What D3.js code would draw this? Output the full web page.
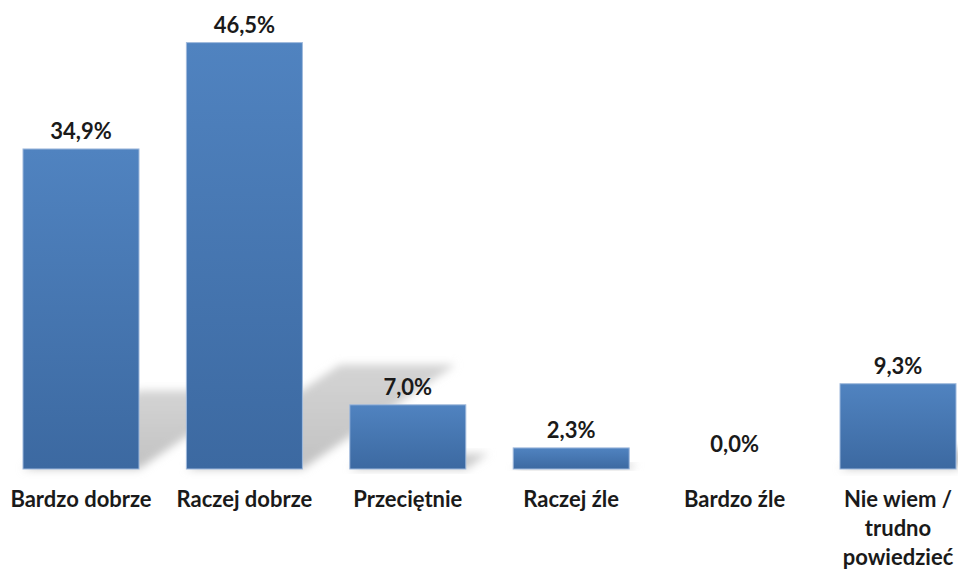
<!DOCTYPE html>
<html>
<head>
<meta charset="utf-8">
<script src="https://cdn.jsdelivr.net/npm/d3@7"></script>
<style>
  html, body { margin: 0; padding: 0; background: #ffffff; }
  svg { display: block; }
  text { font-family: Lato, "Open Sans", "DejaVu Sans", sans-serif; font-weight: 700; fill: #1a1a1a; }
</style>
</head>
<body>
<svg id="chart" width="958" height="569"></svg>
<script>
// Survey answers and their shares (percent)
const categories = ["Bardzo dobrze", "Raczej dobrze", "Przeciętnie", "Raczej źle", "Bardzo źle", "Nie wiem / trudno powiedzieć"];
const values = [34.9, 46.5, 7.0, 2.3, 0.0, 9.3];
const valueLabels = ["34,9%", "46,5%", "7,0%", "2,3%", "0,0%", "9,3%"];

const W = 958, H = 569;
const baseY = 469;
const fontSize = 22;

const svg = d3.select("#chart");

const x = d3.scaleBand()
  .domain(categories)
  .range([-0.7, 979.7])
  .paddingInner(0.29)
  .paddingOuter(0.145);

const y = d3.scaleLinear()
  .domain([0, 50])
  .range([baseY, 10.5]);

const defs = svg.append("defs");

// Bar fill: lighter blue at the top, deeper blue at the base
const barGrad = defs.append("linearGradient")
  .attr("id", "barGrad")
  .attr("x1", 0).attr("y1", 0).attr("x2", 0).attr("y2", 1);
barGrad.append("stop").attr("offset", "0%").attr("stop-color", "#5083c0");
barGrad.append("stop").attr("offset", "100%").attr("stop-color", "#3c69a1");

// Soft perspective shadow cast up and to the right
const shadowGrad = defs.append("linearGradient")
  .attr("id", "shadowGrad")
  .attr("x1", 0).attr("y1", 1).attr("x2", 0).attr("y2", 0);
shadowGrad.append("stop").attr("offset", "0%").attr("stop-color", "#c2c2c2");
shadowGrad.append("stop").attr("offset", "100%").attr("stop-color", "#d4d4d4");

const blur = defs.append("filter")
  .attr("id", "shadowBlur")
  .attr("x", "-30%").attr("y", "-30%").attr("width", "160%").attr("height", "160%");
blur.append("feGaussianBlur").attr("stdDeviation", 4.5);

const data = categories.map((c, i) => ({ cat: c, v: values[i], label: valueLabels[i] }));

// Shadow polygons: squashed vertically and skewed to the right
const squash = 0.245, skew = 0.36;
svg.append("g").attr("class", "shadows")
  .selectAll("polygon")
  .data(data.filter(d => d.v > 0))
  .join("polygon")
  .attr("points", d => {
    const x0 = x(d.cat), x1 = x0 + x.bandwidth();
    const h = baseY - y(d.v);
    const sh = h * squash, dx = h * skew;
    return [[x0, baseY], [x1, baseY], [x1 + dx, baseY - sh], [x0 + dx, baseY - sh]]
      .map(p => p.join(",")).join(" ");
  })
  .attr("fill", "url(#shadowGrad)")
  .attr("filter", "url(#shadowBlur)");

// Bars
svg.append("g").attr("class", "bars")
  .selectAll("rect")
  .data(data)
  .join("rect")
  .attr("x", d => x(d.cat))
  .attr("y", d => y(d.v))
  .attr("width", x.bandwidth())
  .attr("height", d => baseY - y(d.v))
  .attr("fill", "url(#barGrad)")
  .attr("stroke", "#9fb9dc")
  .attr("stroke-width", d => d.v > 0 ? 1 : 0);

// Value labels above bars
svg.append("g").attr("class", "values")
  .selectAll("text")
  .data(data)
  .join("text")
  .attr("x", d => x(d.cat) + x.bandwidth() / 2)
  .attr("y", d => Math.min(y(d.v), baseY - 7) - 10)
  .attr("text-anchor", "middle")
  .attr("font-size", fontSize)
  .text(d => d.label);

// Category axis labels, wrapped to the column width
const xAxis = d3.axisBottom(x).tickSize(0).tickPadding(0);
const axisG = svg.append("g")
  .attr("transform", `translate(0,${baseY})`)
  .call(xAxis);
axisG.select(".domain").remove();
axisG.selectAll(".tick text")
  .attr("font-size", fontSize)
  .attr("font-family", null)
  .attr("fill", "#1a1a1a")
  .attr("dy", null)
  .attr("y", 38)
  .each(function(d) {
    const t = d3.select(this);
    const words = d.split(" ");
    t.text(null);
    const maxW = 158, lineH = 29, y0 = 38;
    let line = [];
    let lineNo = 0;
    let tspan = t.append("tspan").attr("x", 0).attr("y", y0);
    words.forEach(w => {
      line.push(w);
      tspan.text(line.join(" "));
      if (tspan.node().getComputedTextLength() > maxW && line.length > 1) {
        line.pop();
        tspan.text(line.join(" "));
        line = [w];
        lineNo++;
        tspan = t.append("tspan").attr("x", 0).attr("y", y0 + lineNo * lineH).text(w);
      }
    });
  });
</script>
</body>
</html>
